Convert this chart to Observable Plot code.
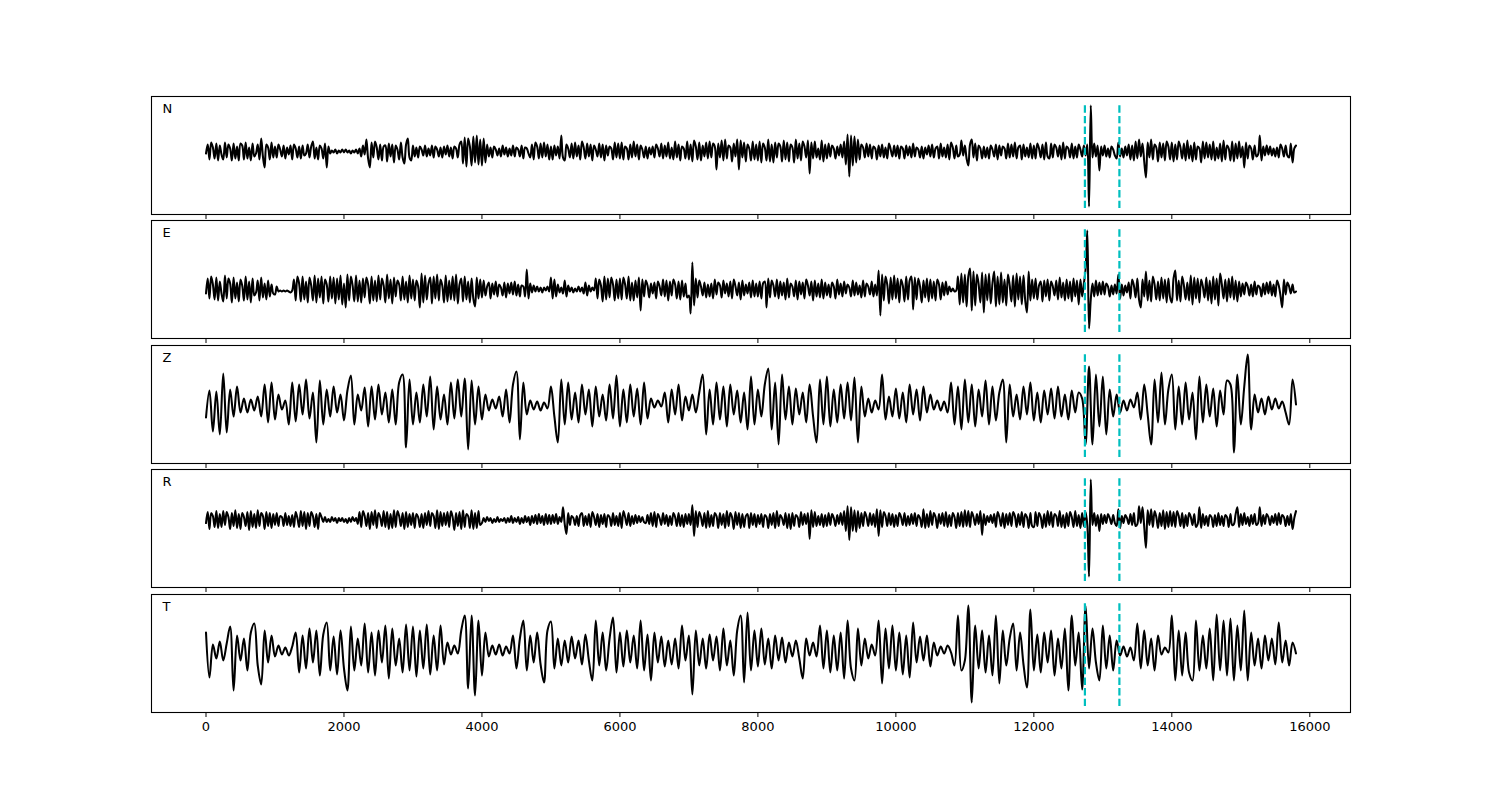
<!DOCTYPE html>
<html><head><meta charset="utf-8">
<script src="https://cdn.jsdelivr.net/npm/d3@7"></script>
<script src="https://cdn.jsdelivr.net/npm/@observablehq/plot@0.6"></script>
<style>
body{margin:0;background:#fff;}
#chart{position:relative;width:1500px;height:800px;background:#fff;}
#chart svg{position:absolute;left:0;}
</style>
</head><body><div id="chart"></div>
<script>
const channels = ["N", "E", "Z", "R", "T"];
// sample interval of each trace (time units on x)
const sampleSteps = [25, 25, 50, 25, 50];
const pickTimes = [12740, 13240];
const xTicks = [0, 2000, 4000, 6000, 8000, 10000, 12000, 14000, 16000];

const traceN = [
-2,7,-8,9,4,-7,8,-9,6,-3,-8,9,-6,7,3,-9,8,-7,5,-9,8,6,-8,9,-7,4,-9,8,-5,-2,7,-8,13,-5,-16,7,4,-8,9,-6,
5,-6,7,2,-5,6,-7,4,-3,6,-8,7,3,-6,5,-7,6,-4,-2,7,-6,5,10,-7,4,-8,6,3,-7,8,-16,5,-2,1,-1,2,-2,1,-1,2,
-1,2,-1,1,-2,1,-1,2,-2,3,-5,6,-3,12,-7,-16,9,-6,10,4,-8,7,-9,5,6,-10,8,-5,7,-11,6,2,-8,9,-6,-12,7,13,-6,-9,
6,-5,4,-6,5,2,-4,6,-5,3,-4,6,-6,5,2,-5,4,-6,5,-3,6,-5,4,-7,5,3,-6,7,10,-12,14,-15,13,5,-14,15,-11,16,-13,12,
-14,13,-11,7,-5,4,-6,5,2,-4,3,-5,6,-3,4,-5,3,-4,6,-5,4,2,-5,6,-7,4,3,-2,-6,7,-8,9,5,-7,8,-6,9,-5,7,-8,
5,-8,6,-4,5,-7,16,-6,-9,7,3,-6,8,-7,9,-5,6,-8,10,4,-7,8,-5,7,-9,6,2,-5,8,-6,7,-9,6,-4,5,3,-8,9,-6,8,
-7,9,-8,5,3,-8,7,-6,10,-5,7,-8,6,2,-6,5,-7,4,-3,5,-6,7,3,-5,8,-7,6,-5,9,-7,4,-8,10,-6,7,-9,5,3,-7,10,
-8,7,-10,11,5,-8,9,-9,6,-5,9,-7,10,-6,8,5,-18,8,-6,11,-9,12,-7,6,4,-10,8,-5,12,-18,11,-6,9,-10,7,3,-9,10,-8,7,
-9,10,-11,8,4,-9,12,-10,7,-11,9,-6,8,5,-10,11,-8,9,-10,7,4,-11,12,-7,8,-9,10,5,-6,11,-22,9,-7,10,-6,3,-8,11,-10,7,
-7,8,-5,6,3,-7,5,-4,7,-6,10,-13,17,-25,16,-14,15,-11,12,-8,7,4,-6,8,-5,7,-7,5,3,-8,6,-5,7,-6,4,-7,8,2,-5,6,
-5,6,-7,5,3,-7,6,-4,5,-6,8,-5,4,2,-6,5,-7,4,-3,6,-5,7,-6,3,5,-7,8,-5,4,-6,7,-8,9,4,-7,6,-5,-3,11,-4,
6,-7,-14,7,12,-6,8,-9,6,3,-7,5,-6,4,-7,6,2,-5,7,-8,6,-4,5,3,-7,8,-6,7,-5,9,-7,4,6,-8,7,-5,4,-6,8,-7,
6,-7,8,3,-6,7,-8,9,-5,-7,8,-6,7,4,-5,6,-8,9,-7,5,3,-6,8,-7,5,-6,7,2,-5,6,-4,7,-55,46,-6,8,-5,6,-19,5,
-4,6,-5,3,-6,5,2,-4,-7,9,-5,3,-6,5,-4,7,-8,6,-9,10,-7,12,-5,8,-10,-26,9,-6,12,-8,7,4,-10,9,-6,8,-9,10,5,-8,
9,-10,7,-8,10,4,-7,8,-9,11,-7,6,-10,9,-8,5,3,-11,10,-7,9,-6,7,-8,10,-9,4,-7,8,-10,11,-8,6,3,-9,10,-10,8,-7,10,
-6,5,-16,9,-7,6,3,-8,6,-5,-3,16,-9,5,-4,6,-3,5,-4,3,-5,4,-6,7,3,-5,6,-4,-6,8,-11,3,6
];
const traceE = [
-4,11,-9,13,5,-10,12,-11,8,-4,-12,14,-9,11,6,-13,12,-9,7,-12,10,4,-11,13,-10,8,-13,11,-6,-3,9,-11,12,-8,6,-10,9,-7,5,-4,
-5,3,-2,-1,-2,-1,-2,-1,-2,-3,-1,10,-11,13,6,-12,13,-10,8,-13,12,4,-11,14,-13,11,-8,13,-14,10,5,-12,13,-9,12,-14,11,-10,14,-15,
6,-18,15,-11,13,4,-12,14,-12,9,-13,11,-8,12,5,-14,13,-11,9,-12,14,-10,11,4,-13,15,-9,10,-14,12,-7,9,5,-11,13,-10,8,-13,14,-9,
10,-11,9,3,-18,16,-13,14,-10,6,12,-14,13,-9,15,-11,10,4,-13,14,-12,9,-10,13,-11,15,-14,5,11,-12,13,-10,8,-13,11,-9,-17,12,-9,10,
-8,9,-6,3,7,-9,6,-5,8,-7,5,2,-6,7,-8,6,-4,7,-5,8,-6,5,-7,4,3,-7,20,-9,6,-3,4,-2,3,-2,2,-3,2,-1,3,-2,
12,-9,10,-7,5,-3,2,-4,9,-7,4,-2,2,-3,1,-2,3,-2,2,-4,7,-6,4,-2,2,-1,11,-9,10,4,-12,13,-10,11,-8,12,5,-11,10,-9,
11,-10,12,5,-9,13,-11,7,-11,9,-8,12,-21,10,-7,9,4,-8,6,-4,7,-9,8,3,-6,10,-7,9,-11,8,-6,10,5,-9,8,-10,9,-7,6,-8,
-6,-24,27,-16,11,-8,9,3,-6,7,-8,5,-7,6,-9,10,-5,7,4,-8,9,-4,6,-7,8,-9,10,3,-6,7,-10,9,-6,5,-4,7,-8,9,-7,6,
-7,8,-9,6,8,-18,11,-8,9,4,-7,10,-9,8,-6,7,-10,11,-8,6,3,-7,9,-10,8,-5,7,-9,10,4,-6,8,-11,9,-7,6,-8,10,-9,7,
-6,5,-8,7,3,-9,10,-5,6,-7,8,-4,5,2,-7,9,-6,7,-5,4,-8,9,-7,6,3,-5,8,-7,5,-6,19,-26,15,-11,13,5,-14,12,-10,14,
-9,11,-13,10,4,-12,13,-10,9,13,-20,12,-10,11,3,-13,9,-8,11,-12,10,-9,8,-11,10,5,-10,7,-6,8,-5,3,-2,1,-2,-1,13,-15,16,-13,
15,-17,13,21,-21,18,-16,15,5,-13,17,-23,15,-11,16,-14,6,18,-17,13,-15,17,-13,10,-16,15,4,-12,14,-17,16,-10,13,-15,14,-11,-23,18,-11,10,
-9,11,-10,4,8,-12,9,-7,10,-11,8,3,-6,9,-10,12,-8,7,-11,10,-9,8,-12,11,-7,9,-15,10,-7,6,20,59,-39,-10,6,-7,9,-6,7,-5,
8,-5,6,3,-7,4,-5,5,-4,15,-9,5,-6,4,-3,7,-9,10,4,-8,11,-10,-18,10,-7,18,-11,9,-12,13,5,-10,8,-11,12,-9,10,-13,11,-8,
-13,11,19,-11,9,-12,13,4,-10,7,-11,14,-15,12,-9,11,-13,10,3,-8,12,-11,9,-14,13,-10,11,-16,16,5,-9,10,-12,11,-8,13,-10,9,-12,8,
-7,6,-5,7,3,-6,5,-7,8,-5,4,2,-7,6,-5,7,-4,8,-6,5,-7,9,4,-6,-18,10,-5,7,3,-4,5,-3,-2
];
const traceZ = [
-13,14,-27,13,-30,31,-28,15,-12,18,-8,6,-8,5,-6,8,-12,20,-18,22,
-15,10,-5,4,-20,22,-17,20,-10,25,-14,12,-38,24,-20,15,-12,18,-8,10,
-16,14,29,-20,10,-6,17,-22,18,-15,20,-10,12,-18,15,-20,22,30,-43,25,
-20,12,-18,20,-12,28,-25,18,-15,10,-20,22,-14,25,-12,26,-45,24,-20,18,
-15,10,-6,5,-4,8,-12,15,-18,20,33,-35,22,-10,4,-5,3,-6,2,-4,
18,-12,-38,25,-20,22,-15,12,-18,20,-10,15,-22,18,-12,10,-16,20,-14,29,
-22,15,-18,20,-12,16,-20,22,-14,6,-3,4,-2,12,-18,15,-10,20,-16,8,
-6,10,-8,12,30,-30,15,-20,22,-15,18,-22,20,-10,14,-18,12,-25,28,-20,
15,-12,20,36,-25,22,-40,30,-15,18,-20,16,-10,12,-18,20,-12,-38,25,-20,
28,-22,15,-18,20,-14,22,-16,27,-38,18,-12,6,-8,4,-5,30,-15,8,-12,
16,-14,12,-18,20,-10,15,-16,18,-8,10,-5,4,-6,3,-8,22,-20,18,-25,
25,-18,20,-22,15,-12,24,-20,18,-16,12,25,-38,20,-12,10,-15,18,-10,22,
-16,12,-18,14,-10,16,-14,18,-12,10,-15,14,-8,12,6,-40,38,-40,30,-22,
28,-30,15,-12,10,-8,4,-6,5,-3,12,-15,20,-10,-40,25,-18,32,-20,15,
30,-25,18,-20,22,-15,12,-35,28,-18,20,-12,16,-22,14,-10,24,20,-48,30,
-20,18,50,-25,10,-8,6,-10,8,-5,6,-4,3,-8,-20,25,0
];
const traceR = [
-3,8,-9,7,4,-7,9,-8,6,-7,9,-5,8,3,-9,7,-6,10,-8,6,-9,7,3,-6,8,-10,9,-7,6,-8,10,-6,7,4,-9,8,-6,7,-8,6,
-5,7,-6,4,3,-6,7,-5,4,-6,5,-7,8,2,-7,9,-6,8,-9,7,-6,8,4,-7,6,-9,7,3,-2,3,-2,1,-2,3,-1,2,-3,2,-1,2,
-2,1,-3,2,-2,3,-1,2,-4,8,-7,9,4,-6,7,-9,8,-5,10,-8,7,3,-6,9,-7,8,-9,6,-8,10,-7,9,4,-6,7,-9,8,-7,6,-5,
7,-8,6,3,-7,6,-8,7,-5,9,-6,7,4,-8,10,-9,8,-6,7,-5,8,-7,9,3,-10,7,-6,8,-9,10,-7,6,4,-8,10,-9,7,-8,9,-5,
-3,2,-2,3,-1,2,-3,1,-2,3,-2,1,-1,2,-3,2,-2,4,-3,2,-2,3,-4,2,-3,4,-2,3,-5,4,-3,5,-4,6,-3,4,-5,6,-4,5,
-4,5,-3,6,-4,3,-2,13,-4,-14,7,-5,4,2,-5,4,-6,5,7,-6,4,-5,6,-7,8,3,-5,6,-7,5,-4,6,-7,5,3,-6,7,-5,4,-6,
7,-8,9,3,-5,7,-6,4,-4,5,-3,4,-2,3,-2,-3,5,-4,7,-6,8,-7,6,2,-5,7,-4,5,-6,4,-5,7,3,-6,7,-6,5,-7,6,-4,
6,-5,15,-16,9,-7,8,3,-6,7,-8,9,-7,5,-6,7,4,-8,7,-5,6,-8,9,-6,7,3,-9,8,-5,7,-8,6,-7,4,6,-8,7,-5,6,-7,
5,-4,6,-7,5,3,-8,6,-5,7,-8,9,-6,5,2,-5,7,-8,6,-9,7,-6,5,3,-7,8,-5,6,-4,7,-19,10,-7,8,-6,4,-5,6,-7,5,
-6,7,-5,6,2,-6,5,-4,7,-5,9,-11,14,-20,13,-11,10,-12,9,-8,7,-6,8,3,-6,7,-5,6,-7,11,-16,10,-7,8,4,-6,7,-5,6,-7,
5,-6,7,3,-5,7,-6,4,-5,6,-4,7,-6,5,2,-7,11,-8,6,-7,9,-5,7,3,-8,6,-4,7,-6,8,-7,5,-6,7,3,-8,7,-6,8,-7,
10,-6,9,-7,8,3,-5,6,-4,9,-15,6,-5,4,-2,5,-3,6,-7,8,3,-6,7,-8,6,-5,7,-6,8,4,-7,6,-5,8,-7,6,3,-8,7,-6,
-7,8,-6,7,3,-8,6,-7,9,-5,8,-7,6,4,-6,9,-7,5,-8,7,-6,8,3,-7,9,-6,5,-8,7,-6,8,-5,-57,41,-5,7,-6,5,-11,6,
-4,5,-3,6,2,-4,5,-3,-6,11,-8,4,-3,5,2,-4,6,-5,7,-6,-4,14,-3,13,-7,-28,10,-5,11,-7,9,3,-8,7,-6,10,-9,8,-7,9,
-6,8,-7,9,4,-6,7,-8,5,-6,7,3,-5,6,-7,-4,13,-8,6,-5,4,-6,5,3,-7,5,-6,7,-5,4,-6,5,3,-7,6,-5,-4,6,13,-7,
6,-5,7,-4,3,-6,5,-4,6,-5,-3,13,-6,5,-4,6,3,-5,4,-3,6,-5,7,-4,5,3,-6,4,-5,6,-9,2,9
];
const traceT = [
18,-27,6,-8,9,-10,7,24,-40,15,-10,12,-20,18,27,-15,-34,20,-12,15,
-6,5,-4,3,-5,4,18,-22,15,-18,22,-12,20,-25,16,28,-20,14,-24,20,
-18,-40,24,-20,12,-15,27,-22,18,-25,20,-12,25,-28,22,-15,12,-22,26,-20,
24,-26,20,-18,26,-24,15,-20,25,-14,8,-4,5,-3,20,35,-38,35,-45,30,
-25,18,-6,5,-4,6,-5,4,-3,15,-18,12,30,-20,15,-12,18,-14,-32,20,
29,-18,12,-15,10,-12,14,-8,10,-14,16,-10,-30,30,-15,18,-20,12,33,-22,
18,-16,20,-12,15,-18,30,-20,16,-30,18,-12,14,-16,10,-14,12,-18,25,-10,
15,-44,20,-15,12,-18,16,-10,14,-20,22,-15,10,-25,20,35,-32,38,-20,20,
-16,22,-14,12,-18,15,-10,13,-12,8,-6,10,-8,-28,12,-5,8,-6,25,-18,
20,-22,15,-20,18,-28,30,-18,-30,22,-15,12,-8,6,-5,30,-33,22,-18,25,
-20,18,-24,15,-27,28,-12,14,-10,15,-16,8,-5,4,-3,5,-2,-15,35,-20,
-10,45,-52,25,-18,20,-22,15,-25,35,-33,20,-15,12,27,-20,18,-14,-37,41,
-20,16,-22,18,-12,20,-25,12,-18,22,-40,35,-15,18,-39,45,-18,22,-12,-30,
25,-18,15,-20,10,-5,4,-6,3,-10,27,-18,20,-15,12,-20,15,-4,3,-2,
35,-30,20,-25,18,-22,-30,30,-20,15,-18,22,-30,36,-20,30,-25,32,-30,25,
-20,40,-30,18,-15,12,-18,15,-10,12,-14,28,-12,10,-15,8,-3
];

const traces = [traceN, traceE, traceZ, traceR, traceT];
traces.forEach((t, k) => {
  const expected = 15800 / sampleSteps[k] + 1;
  if (t.length !== expected) console.error("trace " + channels[k] + " has " + t.length + " expected " + expected);
});

// layout / scale configuration
const yDomains = [[-63, 55], [-49, 69], [-59, 59], [-68, 51], [-62, 56]];
const panelTops = [96, 220, 345, 469, 594];
const innerH = 118, mt = 2;

const chart = document.getElementById("chart");
channels.forEach((ch, k) => {
  const step = sampleSteps[k];
  const data = traces[k].map((v, i) => ({t: i * step, v}));
  const last = k === channels.length - 1;
  const mb = last ? 40 : 8;
  const [y0, y1] = yDomains[k];
  const span = y1 - y0;
  const svg = Plot.plot({
    width: 1500, height: innerH + mt + mb,
    marginLeft: 151, marginRight: 150, marginTop: mt, marginBottom: mb,
    x: {domain: [-790, 16590], label: null},
    y: {domain: [y0, y1], axis: null},
    style: {fontFamily: "DejaVu Sans", fontSize: "13px", color: "black", background: "transparent", overflow: "visible"},
    marks: [
      Plot.line(data, {x: "t", y: "v", stroke: "black", strokeWidth: 2.05, curve: "catmull-rom"}),
      Plot.ruleX(pickTimes, {y1: y0 + 0.05 * span, y2: y1 - 0.05 * span, stroke: "#00bfbf", strokeWidth: 2.2, strokeDasharray: "7.4,3.2"}),
      Plot.frame({stroke: "black", strokeWidth: 1.1}),
      Plot.text([ch], {frameAnchor: "top-left", dx: 11, dy: 7, text: d => d, textAnchor: "start", lineAnchor: "top", fontSize: 13, fill: "black"}),
      Plot.axisX({ticks: xTicks, tickSize: 5, tickPadding: 4, tickFormat: last ? (d => String(d)) : (() => ""), fontSize: 13, label: null})
    ]
  });
  svg.style.top = (panelTops[k] - mt) + "px";
  chart.appendChild(svg);
});
</script>
</body></html>
